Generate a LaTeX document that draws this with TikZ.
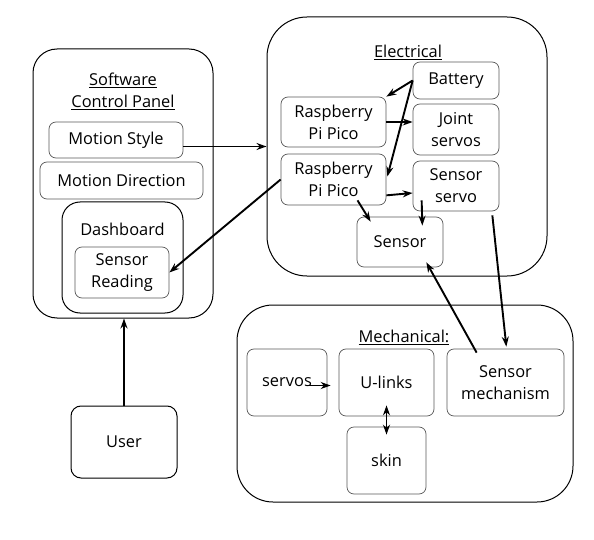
\documentclass[tikz,border=0pt]{standalone}
\usepackage{fontspec}
\setmainfont{Open Sans}
\usetikzlibrary{arrows.meta,calc}

\begin{document}
\begin{tikzpicture}[x=1pt, y=-1pt,
  every node/.style={font=\fontsize{16.4}{22}\selectfont, align=center},
  group/.style={draw, line width=1pt, rounded corners=#1},
  part/.style={draw=black!65, line width=0.7pt, rounded corners=7pt, inner sep=0pt},
  link/.style={-{Stealth[length=10pt,width=7pt]}, line width=1.9pt}]
  \useasboundingbox (0,0) rectangle (594,540);
  % Software control panel
  \node[group=24pt, minimum width=180, minimum height=269] (software) at (123,183.5) {};
  \node (softtitle) at (123,91) {\underline{Software}\\\underline{Control Panel}};
  \node[part, minimum width=134, minimum height=36] (motionstyle) at (116,140) {Motion Style};
  \node[part, minimum width=163, minimum height=37] (motiondir) at (121.5,180.5) {Motion Direction};
  \node[group=18pt, minimum width=121, minimum height=111] (dashboard) at (122.5,257.5) {};
  \node (dashtitle) at (122.5,229) {Dashboard};
  \node[part, minimum width=94, minimum height=51] (reading) at (122,272.5) {Sensor\\Reading};
  % User
  \node[group=10pt, minimum width=106, minimum height=72] (user) at (124,442) {User};
  % Electrical
  \node[group=40pt, minimum width=280, minimum height=259] (electrical) at (407,146.5) {};
  \node (electitle) at (408,52) {\underline{Electrical}};
  \node[part, minimum width=86, minimum height=37] (battery) at (456,80.5) {Battery};
  \node[part, minimum width=86, minimum height=51] (joint) at (456,129.5) {Joint\\servos};
  \node[part, minimum width=86, minimum height=50] (sservo) at (456,186) {Sensor\\servo};
  \node[part, minimum width=105, minimum height=50] (picoa) at (333.5,122) {Raspberry\\Pi Pico};
  \node[part, minimum width=105, minimum height=51] (picob) at (333.5,179.5) {Raspberry\\Pi Pico};
  \node[part, minimum width=86, minimum height=50] (sensor) at (400,242) {Sensor};
  % Mechanical
  \node[group=36pt, minimum width=336, minimum height=197] (mechanical) at (405,403.5) {};
  \node (mechtitle) at (404,337) {\underline{Mechanical:}};
  \node[part, minimum width=80, minimum height=67] (servos) at (287,382.5) {servos};
  \node[part, minimum width=95, minimum height=67] (ulinks) at (386.5,382.5) {U-links};
  \node[part, minimum width=117, minimum height=67] (smech) at (505.5,382.5) {Sensor\\mechanism};
  \node[part, minimum width=79, minimum height=67] (skin) at (386.5,460.5) {skin};
  % connectors
  \draw[link] (user.north) -- (user.north |- software.south);
  \draw[link] (motionstyle.east |- electrical.west) -- (electrical.west);
  \draw[link] (picob.west) -- (reading.east);
  \draw[link] (battery.west) -- (picoa.north east);
  \draw[link] (battery.west) -- ($(picob.east)+(1,-3)$);
  \draw[link] (picoa.east) -- (picoa.east -| joint.west);
  \draw[link] ($(picob.south east)+(0,-10)$) -- ($(sservo.west)+(0,7)$);
  \draw[link] ($(picob.south)+(24,-5)$) -- ($(sensor.north west)+(14,5)$);
  \draw[link] ($(sservo.south west)+(9,-11)$) -- ($(sensor.north east)+(-21,9)$);
  \draw[link] ($(sservo.south east)+(-7,4)$) -- ($(smech.north east)+(-58,-2)$);
  \draw[link] ($(smech.north west)+(30,4)$) -- ($(sensor.south east)+(-17,-5)$);
  \draw[link] ($(servos.east)+(-21,3)$) -- ($(ulinks.west)+(-8,3)$);
  \draw[link, {Stealth[length=10pt,width=7pt]}-{Stealth[length=10pt,width=7pt]}] ($(ulinks.south)+(0,-11)$) -- ($(skin.north)+(0,8)$);
\end{tikzpicture}
\end{document}
